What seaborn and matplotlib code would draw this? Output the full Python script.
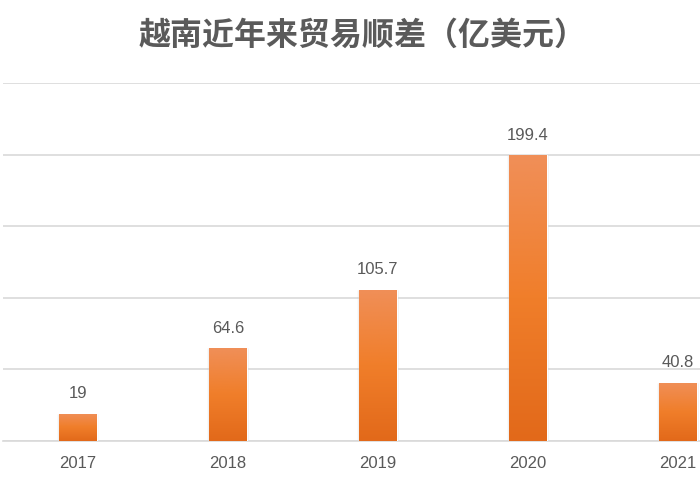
import matplotlib
matplotlib.use("Agg")
import matplotlib.pyplot as plt
import numpy as np
import pandas as pd
import seaborn as sns
from matplotlib.colors import LinearSegmentedColormap

years = ["2017", "2018", "2019", "2020", "2021"]
surplus = [19, 64.6, 105.7, 199.4, 40.8]
value_labels = ["19", "64.6", "105.7", "199.4", "40.8"]
title = "越南近年来贸易顺差（亿美元）"

sns.set_theme(style="white")
plt.rcParams["font.family"] = ["Liberation Sans", "Noto Sans CJK SC", "DejaVu Sans"]

df = pd.DataFrame({"year": years, "surplus": surplus})

fig = plt.figure(figsize=(7, 5), dpi=100)
ax = fig.add_axes([0.004, 0.118, 0.996, 0.716])

sns.barplot(data=df, x="year", y="surplus", color="#ee7b2e", width=0.25,
            saturation=1, ax=ax, zorder=3)

# vertical gradient inside each bar (lighter top, darker bottom)
grad_cmap = LinearSegmentedColormap.from_list("bar", ["#e2691a", "#f07e2a", "#f08f58"])
grad = np.linspace(0, 1, 256).reshape(-1, 1)
for p in ax.patches:
    x0, y0 = p.get_x(), p.get_y()
    w, h = p.get_width(), p.get_height()
    # soft shadow around the bar
    for k, a in [(0.012, 0.04), (0.006, 0.06)]:
        ax.bar(x0 + w / 2, h, width=w + 2 * k, bottom=y0, color="#000000",
               alpha=a, zorder=2, align="center")
    im = ax.imshow(grad, cmap=grad_cmap, aspect="auto", origin="lower",
                   extent=[x0, x0 + w, y0, y0 + h], zorder=4)
    im.set_clip_path(p)

for i, (v, lab) in enumerate(zip(surplus, value_labels)):
    ax.text(i, v + 9, lab, ha="center", va="bottom", fontsize=12, color="#595959", zorder=5)

ax.set_xlim(-0.5, 4.147)
ax.set_ylim(0, 250)
ax.set_yticks([0, 50, 100, 150, 200, 250])
ax.yaxis.grid(True, color="#d9d9d9", linewidth=1.2, zorder=0)
ax.set_axisbelow(True)
ax.tick_params(axis="y", left=False, labelleft=False)
ax.tick_params(axis="x", bottom=False, labelsize=12, colors="#595959", pad=5)
ax.set_xlabel("")
ax.set_ylabel("")
for s in ["top", "left", "right"]:
    ax.spines[s].set_visible(False)
ax.spines["bottom"].set_color("#d9d9d9")
ax.spines["bottom"].set_linewidth(1.2)

fig.text(0.518, 0.928, title, ha="center", va="center", fontsize=23, fontweight="bold",
         color="#5a5a5a", family=["Noto Sans CJK SC", "DejaVu Sans"])

fig.savefig("out.png", dpi=100, facecolor="white")
